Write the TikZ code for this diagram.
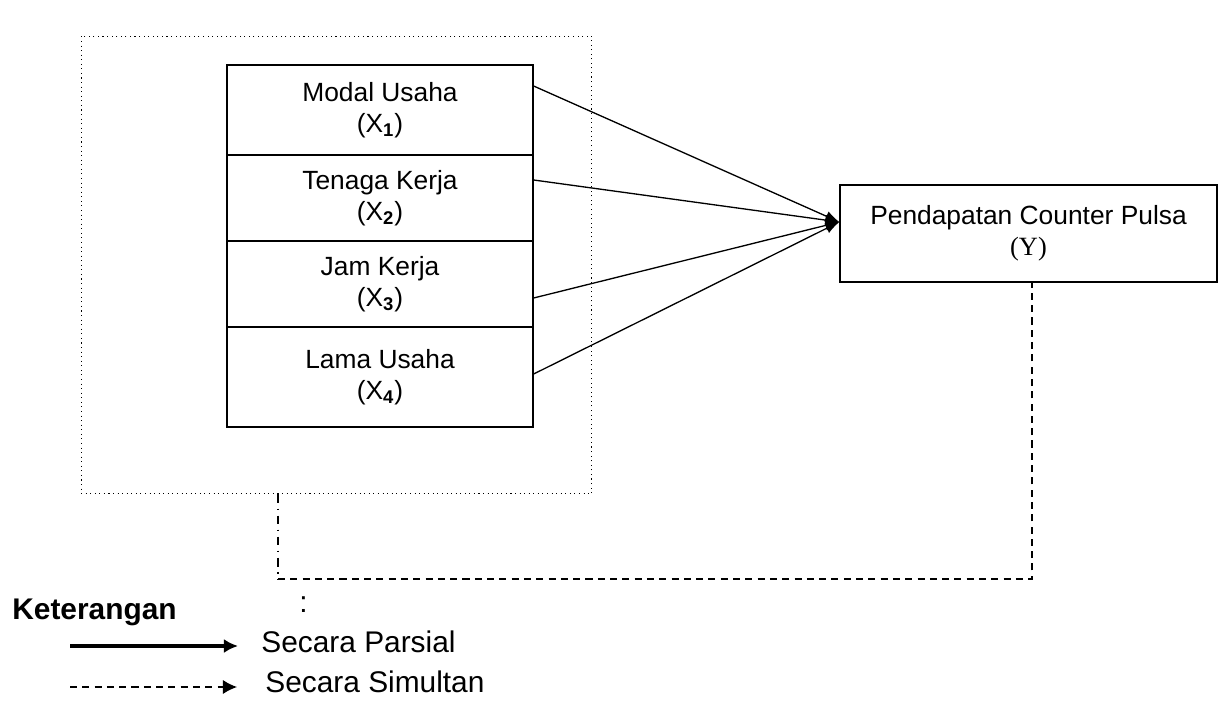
\documentclass[tikz,border=0pt]{standalone}
\usepackage{fontspec}
\setmainfont{Liberation Sans}
\newfontfamily\serifY{Liberation Serif}
\usetikzlibrary{arrows.meta}

\begin{document}
\begin{tikzpicture}[x=0.02cm,y=-0.02cm,font=\fontsize{15}{17.5}\selectfont]
                \tikzstyle{varbox}=[rectangle,draw=black,line width=0.8pt,minimum width=6.12cm,align=center,inner sep=0pt]
                \tikzstyle{partial}=[line width=0.75pt,-{Latex[length=8pt,width=6pt]}]
                \tikzstyle{simultan}=[line width=0.7pt,dash pattern=on 4pt off 3pt]
                \tikzstyle{legend}=[anchor=base west,inner sep=0pt,font=\fontsize{17}{20}\selectfont]
                \useasboundingbox (0,0) rectangle (1226,702);

                \node[draw=black,dotted,line width=0.6pt,minimum width=10.22cm,minimum height=9.16cm,inner sep=0pt] (frame) at (336.5,265) {};
                \foreach \num/\y/\h/\name in {1/110/1.8/Modal Usaha, 2/198/1.72/Tenaga Kerja, 3/284/1.72/Jam Kerja, 4/377/2/Lama Usaha}
                        \node[varbox,minimum height=\h cm] (X-\num) at (380,\y) {\name\\(X\textsubscript{\bfseries\num})};
                \node[draw=black,line width=0.8pt,minimum width=7.54cm,minimum height=1.94cm,align=center,inner sep=0pt] (Y) at (1028.5,233.5)
                        {Pendapatan Counter Pulsa\\{\serifY (Y)}};

                    \foreach \num/\dy in {1/0.48, 2/0.36, 3/-0.28, 4/0.06}
                        \draw[partial] ([yshift=\dy cm]X-\num.east) -- ([yshift=0.23cm]Y.west);

                    \coordinate (corner) at (278,579);
                    \draw[line width=0.7pt,dash pattern=on 5pt off 3pt on 1pt off 3pt] (frame.south -| corner) -- (corner);
                    \draw[simultan] (corner) -| ([xshift=0.07cm]Y.south);

                \node[legend,font=\fontsize{17}{20}\bfseries\selectfont] (ket) at (12,619) {Keterangan};
                \node[legend] (colon) at (299,612) {:};
                \coordinate (p-start) at (70,646);
                \coordinate (p-end) at (238,646);
                \coordinate (s-start) at (70,687);
                \coordinate (s-end) at (237,687);
                \draw[line width=1.8pt,-{Latex[length=8pt,width=8pt]}] (p-start) -- (p-end);
                \draw[line width=0.7pt,dash pattern=on 4pt off 3pt,-{Latex[length=8pt,width=8pt]}] (s-start) -- (s-end);
                \node[legend] (parsial) at (261,652) {Secara Parsial};
                \node[legend] (simultan) at (265,692) {Secara Simultan};
\end{tikzpicture}
\end{document}
